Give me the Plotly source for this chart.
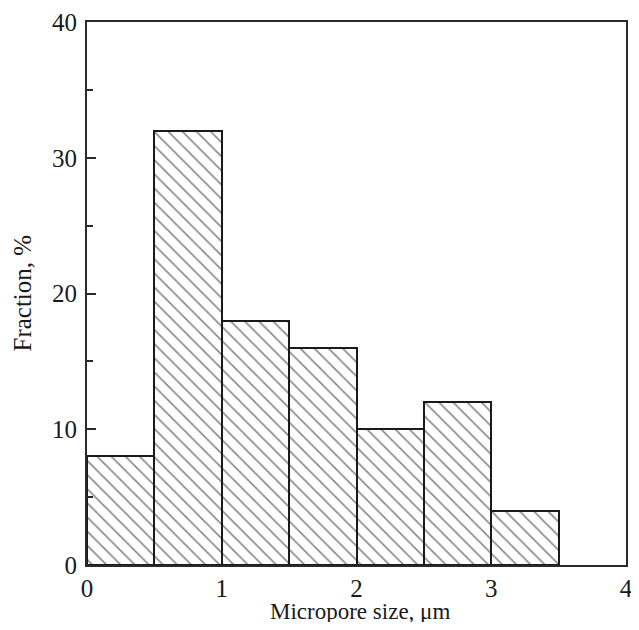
import plotly.graph_objects as go

bin_left = [0.0, 0.5, 1.0, 1.5, 2.0, 2.5, 3.0]
bin_width = 0.5
fraction = [8, 32, 18, 16, 10, 12, 4]
x_ticks = [0, 1, 2, 3, 4]
y_ticks = [0, 10, 20, 30, 40]
y_minor = [5, 15, 25, 35]

centers = [b + bin_width / 2 for b in bin_left]

fig = go.Figure(go.Bar(
    x=centers, y=fraction, width=bin_width,
    marker=dict(color="white",
                line=dict(color="#1a1a1a", width=2),
                pattern=dict(shape="\\", size=10, solidity=0.16,
                             fgcolor="#111111", bgcolor="white")),
))

FAM = "Liberation Serif, Times New Roman, serif"
font = dict(family=FAM, size=25, color="#1a1a1a")
title_font = dict(family=FAM, size=23, color="#1a1a1a")
fig.update_layout(
    width=623, height=614,
    margin=dict(l=79, r=5, t=14, b=57),
    paper_bgcolor="white", plot_bgcolor="white",
    showlegend=False, font=font,
    bargap=0,
    annotations=[
        dict(text="Micropore size, μm", xref="paper", yref="paper", x=0.5, y=0,
             xanchor="center", yanchor="middle", xshift=3, yshift=-46,
             showarrow=False, font=title_font),
        dict(text="Fraction, %", xref="paper", yref="paper", x=0, y=0.5,
             xanchor="center", yanchor="middle", xshift=-65, textangle=-90,
             showarrow=False, font=font),
    ],
)
fig.update_xaxes(range=[0, 4], tickvals=x_ticks, ticks="", showgrid=False,
                 zeroline=False, showline=True, linecolor="#2a2a2a", linewidth=2,
                 mirror=True, ticklabelstandoff=0, tickfont=font, automargin=False,
                 ticklabeloverflow="allow")
fig.update_yaxes(range=[0, 40], tickvals=y_ticks, ticks="inside", ticklen=9,
                 tickwidth=1.5, tickcolor="#2a2a2a", showgrid=False, zeroline=False,
                 showline=True, linecolor="#2a2a2a", linewidth=2, mirror=True,
                 minor=dict(tickvals=y_minor, ticks="inside", ticklen=6,
                            tickwidth=1.5, tickcolor="#2a2a2a"),
                 ticklabelstandoff=3, tickfont=font, automargin=False,
                 ticklabeloverflow="allow")
fig.write_html("out.html")
